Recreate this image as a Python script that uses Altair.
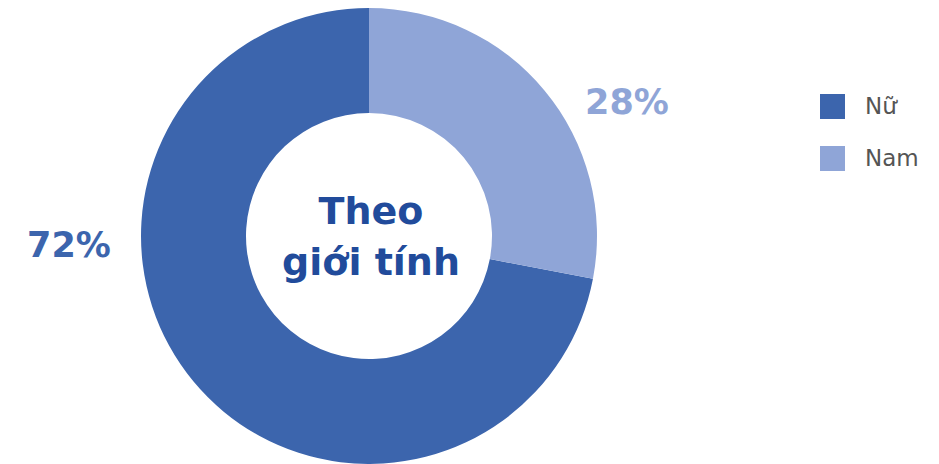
import altair as alt
import pandas as pd

categories = ["Nữ", "Nam"]
values = [72, 28]
labels = ["72%", "28%"]
colors = ["#3c65ad", "#8fa5d7"]
center_lines = ["Theo", "giới tính"]

df = pd.DataFrame({"cat": categories, "val": values, "label": labels,
                   "order": [2, 1]})

CX, CY = 361, 228
FONT = "DejaVu Sans"

color = alt.Color("cat:N", scale=alt.Scale(domain=categories, range=colors),
                  sort=categories,
                  legend=alt.Legend(title=None, orient="none", legendX=812, legendY=86,
                                    symbolType="square", symbolSize=625,
                                    symbolStrokeWidth=0, labelFontSize=23,
                                    labelFont=FONT, labelColor="#555555",
                                    labelOffset=20, rowPadding=27))

arc = alt.Chart(df).mark_arc(outerRadius=228, innerRadius=123, stroke=None).encode(
    theta=alt.Theta("val:Q", stack=True),
    order=alt.Order("order:Q"),
    color=color,
    x=alt.value(CX), y=alt.value(CY),
)

lab_nu = alt.Chart(pd.DataFrame({"t": [labels[0]]})).mark_text(
    font=FONT, fontWeight="bold", fontSize=35, color=colors[0]
).encode(text="t:N", x=alt.value(61), y=alt.value(238))

lab_nam = alt.Chart(pd.DataFrame({"t": [labels[1]]})).mark_text(
    font=FONT, fontWeight="bold", fontSize=35, color=colors[1]
).encode(text="t:N", x=alt.value(619), y=alt.value(95))

center = alt.Chart(pd.DataFrame({"t": [center_lines]})).mark_text(
    font=FONT, fontWeight="bold", fontSize=38, color="#214b9b",
    lineHeight=51, baseline="middle"
).encode(text="t", x=alt.value(CX + 2), y=alt.value(CY - 23))

chart = alt.layer(arc, lab_nu, lab_nam, center).properties(
    width=923, height=456, padding=0, autosize=alt.AutoSizeParams(type="none")
).configure_view(stroke=None)

chart.save("out.html", embed_options={"renderer": "svg", "actions": False})
